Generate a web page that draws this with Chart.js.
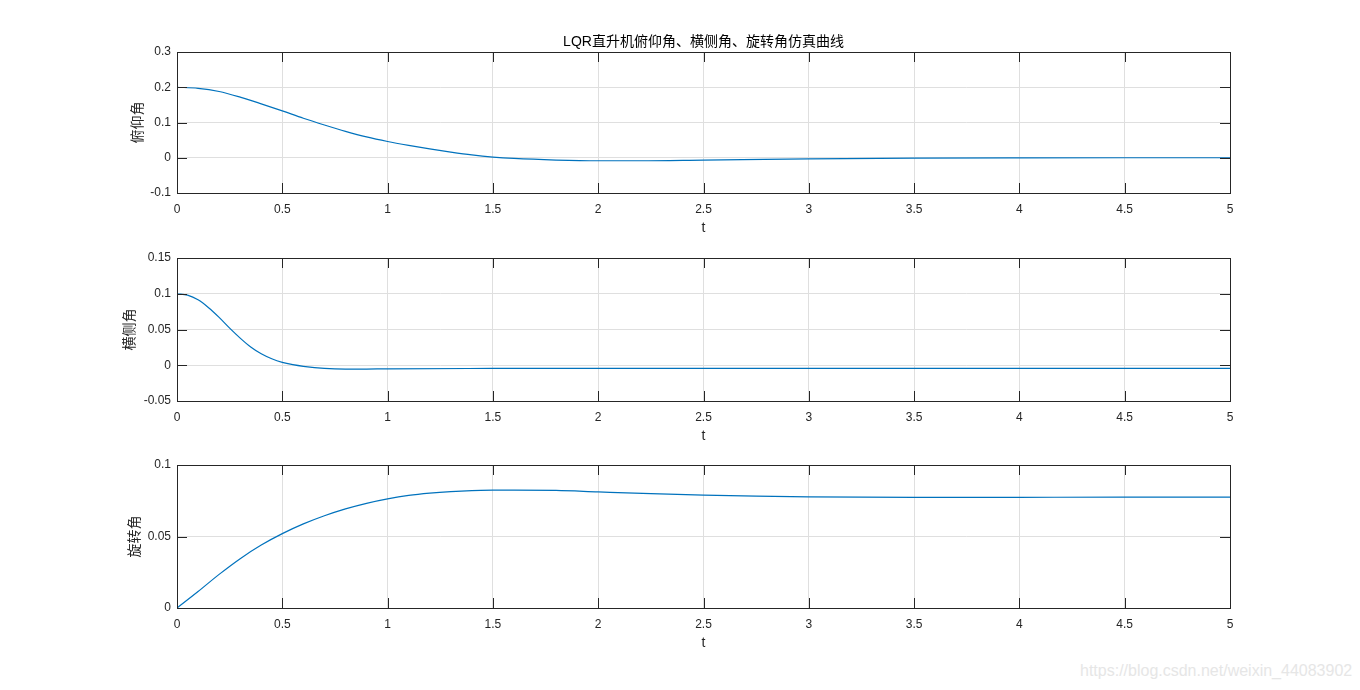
<!DOCTYPE html>
<html lang="zh">
<head>
  <meta charset="UTF-8" />
  <title>LQR直升机俯仰角、横侧角、旋转角仿真曲线</title>
  <script src="https://cdn.jsdelivr.net/npm/chart.js"></script>
  <style>
    body {
      margin: 0;
      background: #fff;
      width: 1360px;
      height: 690px;
      overflow: hidden;
      position: relative;
    }
    .panel {
      position: absolute;
      left: 0;
    }
    #mark {
      position: absolute;
      left: 1080px;
      top: 662px;
      font-family: 'Liberation Sans', Arial, sans-serif;
      font-size: 16px;
      color: #e6e6e6;
      white-space: nowrap;
    }
  </style>
</head>
<body>
  <canvas class="panel" id="c1" width="1360" height="240" style="top:0px"></canvas>
  <canvas class="panel" id="c2" width="1360" height="208" style="top:240px"></canvas>
  <canvas class="panel" id="c3" width="1360" height="207" style="top:448px"></canvas>
  <div id="mark">https://blog.csdn.net/weixin_44083902</div>

  <script>
    // time ticks shared by all three plots
    const xTicks = [0, 0.5, 1, 1.5, 2, 2.5, 3, 3.5, 4, 4.5, 5];

    // pitch
    const t1 = [0, 0.1, 0.2, 0.3, 0.4, 0.5, 0.6, 0.7, 0.8, 0.9, 1.0, 1.1, 1.2, 1.3, 1.4, 1.5, 1.6, 1.8, 2.0, 2.2, 2.5, 3.0, 3.5, 4.0, 4.5, 5.0];
    const pitch = [0.2, 0.197, 0.188, 0.172, 0.153, 0.133, 0.112, 0.093, 0.075, 0.059, 0.046, 0.035, 0.025, 0.016, 0.008, 0.002, -0.002, -0.0065, -0.0085, -0.0085, -0.0065, -0.003, -0.0012, -0.0003, 0, 0];
    const yTicks1 = [-0.1, 0, 0.1, 0.2, 0.3];

    // roll
    const t2 = [0, 0.05, 0.1, 0.15, 0.2, 0.25, 0.3, 0.35, 0.4, 0.45, 0.5, 0.55, 0.6, 0.7, 0.8, 0.9, 1.0, 1.5, 2, 3, 4, 5];
    const roll = [0.1, 0.098, 0.0915, 0.0805, 0.067, 0.052, 0.038, 0.0255, 0.016, 0.009, 0.004, 0.0008, -0.0015, -0.0045, -0.0055, -0.0054, -0.005, -0.0045, -0.0044, -0.0043, -0.0043, -0.0043];
    const yTicks2 = [-0.05, 0, 0.05, 0.1, 0.15];

    // yaw
    const t3 = [0, 0.1, 0.2, 0.3, 0.4, 0.5, 0.6, 0.7, 0.8, 0.9, 1.0, 1.1, 1.2, 1.3, 1.4, 1.5, 1.6, 1.8, 2.0, 2.25, 2.5, 2.75, 3.0, 3.5, 4.0, 4.5, 5.0];
    const yaw = [0, 0.0115, 0.0235, 0.0345, 0.044, 0.052, 0.0588, 0.0645, 0.0693, 0.0732, 0.0763, 0.0787, 0.0803, 0.0814, 0.0821, 0.0824, 0.0825, 0.0822, 0.0812, 0.08, 0.079, 0.0782, 0.0777, 0.0773, 0.0774, 0.0775, 0.0775];
    const yTicks3 = [0, 0.05, 0.1];

    const axisColor = '#262626';
    const gridColor = '#dfdfdf';
    const latin = "'Liberation Sans', Arial, sans-serif";
    const cjk = "'Liberation Sans', 'Noto Sans CJK SC', sans-serif";

    // matlab style box with inward ticks on all four sides
    const boxPlugin = {
      id: 'box',
      afterDraw(chart) {
        const ctx = chart.ctx;
        const a = chart.chartArea;
        const xs = chart.scales.x, ys = chart.scales.y;
        const len = 10;
        ctx.save();
        ctx.strokeStyle = axisColor;
        ctx.lineWidth = 1;
        ctx.beginPath();
        xs.ticks.forEach(t => {
          const px = Math.round(xs.getPixelForValue(t.value)) + 0.5;
          ctx.moveTo(px, a.bottom); ctx.lineTo(px, a.bottom - len);
          ctx.moveTo(px, a.top); ctx.lineTo(px, a.top + len);
        });
        ys.ticks.forEach(t => {
          const py = Math.round(ys.getPixelForValue(t.value)) + 0.5;
          ctx.moveTo(a.left, py); ctx.lineTo(a.left + len, py);
          ctx.moveTo(a.right, py); ctx.lineTo(a.right - len, py);
        });
        ctx.stroke();
        ctx.strokeRect(Math.round(a.left) + 0.5, Math.round(a.top) + 0.5,
          Math.round(a.right - a.left), Math.round(a.bottom - a.top));
        ctx.restore();
      }
    };

    function makePlot(id, times, values, yTicks, yLabel, labelPad, topPad, title) {
      const points = times.map((t, i) => ({ x: t, y: values[i] }));
      return new Chart(document.getElementById(id), {
        type: 'line',
        data: {
          datasets: [{
            data: points,
            borderColor: '#0072bd',
            borderWidth: 1.2,
            pointRadius: 0,
            fill: false,
            cubicInterpolationMode: 'monotone'
          }]
        },
        options: {
          responsive: false,
          animation: false,
          layout: { padding: { left: 115, right: 130, top: topPad, bottom: 0 } },
          plugins: {
            legend: { display: false },
            tooltip: { enabled: false },
            title: {
              display: !!title,
              text: title || '',
              color: '#000',
              fullSize: false,
              font: { family: cjk, size: 14, weight: 'normal', lineHeight: 1.2 },
              padding: { top: 34, bottom: 1.2 }
            }
          },
          scales: {
            x: {
              type: 'linear',
              min: 0,
              max: 5,
              afterBuildTicks: s => { s.ticks = xTicks.map(v => ({ value: v })); },
              afterFit: s => { s.height = 47; },
              grid: { color: gridColor, drawTicks: false },
              border: { display: false },
              ticks: {
                color: axisColor,
                padding: 9,
                maxRotation: 0,
                font: { family: latin, size: 12 },
                callback: v => String(v)
              },
              title: {
                display: true,
                text: 't',
                color: axisColor,
                font: { family: latin, size: 14, lineHeight: 1.2 },
                padding: { top: 0, bottom: 3 }
              }
            },
            y: {
              type: 'linear',
              min: yTicks[0],
              max: yTicks[yTicks.length - 1],
              afterBuildTicks: s => { s.ticks = yTicks.map(v => ({ value: v })); },
              afterFit: s => { s.width = 62; },
              grid: { color: gridColor, drawTicks: false },
              border: { display: false },
              ticks: {
                color: axisColor,
                padding: 6,
                font: { family: latin, size: 12 },
                callback: v => String(v)
              },
              title: {
                display: true,
                text: yLabel,
                color: axisColor,
                font: { family: "'Noto Sans CJK SC', sans-serif", size: 14, lineHeight: 1.2 },
                padding: { top: labelPad, bottom: 0 }
              }
            }
          }
        },
        plugins: [boxPlugin]
      });
    }

    makePlot('c1', t1, pitch, yTicks1, '俯仰角', 13, 0, 'LQR直升机俯仰角、横侧角、旋转角仿真曲线');
    makePlot('c2', t2, roll, yTicks2, '横侧角', 5, 18);
    makePlot('c3', t3, yaw, yTicks3, '旋转角', 10, 17);
  </script>
</body>
</html>
